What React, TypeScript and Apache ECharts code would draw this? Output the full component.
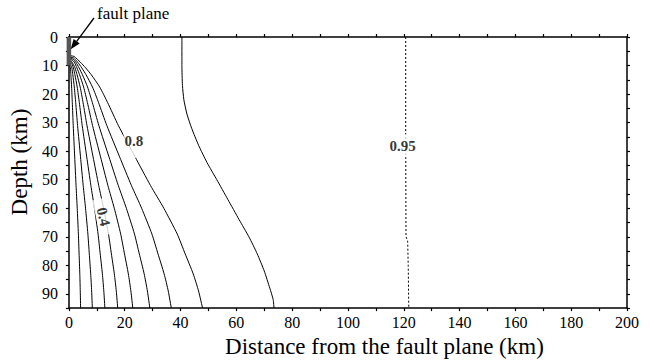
import React, { useEffect, useRef } from "react";
import * as echarts from "echarts";

// Axis ranges / ticks
const xRange = [0, 200];
const xTickStep = 10;
const xLabelStep = 20;
const depthRange = [0, 95];
const depthTickStep = 5;
const depthLabelStep = 10;

// Contours: [distance (km), depth (km)]
const contour01 = [[0, 9.4], [0.53, 10.8], [0.7, 13.2], [0.97, 17.5], [1.22, 23], [1.55, 31], [2.08, 42], [2.56, 52], [2.98, 60], [3.4, 69], [3.65, 76], [3.91, 83], [4.07, 89], [4.2, 95]];
const contour02 = [[0, 9.0], [0.5, 9.6], [1.05, 10.8], [1.4, 13.2], [1.93, 17.5], [2.44, 23], [3.11, 31], [4.16, 42], [5.12, 52], [5.96, 60], [6.8, 69], [7.31, 76], [7.81, 83], [8.15, 89], [8.4, 95]];
const contour03 = [[0, 8.6], [0.8, 8.9], [1.61, 10.8], [2.15, 13.2], [2.97, 17.5], [3.74, 23], [4.77, 31], [6.39, 42], [7.87, 52], [9.16, 60], [10.45, 69], [11.22, 76], [12.0, 83], [12.51, 89], [12.9, 95]];
const contour04 = [[0, 8.2], [1.0, 8.6], [2.19, 10.8], [2.92, 13.2], [4.03, 17.5], [5.08, 23], [6.48, 31], [8.66, 42], [10.68, 52], [12.43, 60], [14.18, 69], [15.23, 76], [16.28, 83], [16.98, 89], [17.5, 95]];
const contour05 = [[0, 7.8], [1.2, 8.1], [1.95, 8.8], [2.86, 10.8], [3.82, 13.2], [5.27, 17.5], [6.64, 23], [8.47, 31], [11.34, 42], [13.97, 52], [16.26, 60], [18.55, 69], [19.92, 76], [21.3, 83], [22.21, 89], [22.9, 95]];
const contour06 = [[0, 7.4], [1.4, 7.7], [2.47, 8.8], [3.63, 10.8], [4.84, 13.2], [6.67, 17.5], [8.41, 23], [10.73, 31], [14.36, 42], [17.69, 52], [20.59, 60], [23.49, 69], [25.23, 76], [26.97, 83], [28.13, 89], [29.0, 95]];
const contour07 = [[0, 7.0], [1.6, 7.3], [3.12, 8.8], [4.59, 10.8], [6.13, 13.2], [8.44, 17.5], [10.64, 23], [13.58, 31], [18.17, 42], [22.39, 52], [26.06, 60], [29.73, 69], [31.93, 76], [34.13, 83], [35.6, 89], [36.7, 95]];
const contour08 = [[0, 6.5], [1.8, 6.8], [4.07, 8.8], [5.99, 10.8], [8.0, 13.2], [11.02, 17.5], [13.89, 23], [17.72, 31], [23.71, 42], [29.22, 52], [34.01, 60], [38.8, 69], [41.67, 76], [44.55, 83], [46.46, 89], [47.9, 95]];
const contour09 = [[40.5, 0], [40.5, 10], [40.7, 17], [41.2, 22], [42.3, 27], [44, 32], [46.5, 38], [49.5, 44], [53, 50], [57, 57], [61, 64], [64.5, 70], [67.5, 76], [70, 82], [72, 88], [73.2, 92], [73.5, 95]];
const contour095 = [[120.7, 0], [120.7, 35], [120.8, 70], [121.4, 71.5], [121.6, 80], [121.8, 95]];

const solidContours = [contour01, contour02, contour03, contour04, contour05, contour06, contour07, contour08, contour09];

// Fault plane segment
const faultPlane = [[0, 0], [0, 10]];

// Contour labels
const labelTexts = ["0.8", "0.4", "0.95"];
const labelPositions = [[23.3, 36.6], [12.4, 63.0], [119.6, 38.1]];
const labelAngles = [0, -77, 0];
const labelPaddings = [[9, 1], [0, 9], [4, 2]];

const annotationText = "fault plane";
const xAxisName = "Distance from the fault plane (km)";
const yAxisName = "Depth (km)";

const SERIF = "Liberation Serif";

export default function App() {
  const ref = useRef<HTMLDivElement>(null);

  useEffect(() => {
    if (!ref.current) return;
    const chart = echarts.init(ref.current, undefined, { renderer: "svg" });

    const axisLine = { onZero: false, lineStyle: { color: "#000", width: 1.5 } };
    const axisTick = { show: true, inside: false, length: 3, lineStyle: { color: "#000", width: 1.2 } };

    const series: any[] = solidContours.map((c) => ({
      type: "line",
      data: c,
      showSymbol: false,
      symbol: "none",
      smooth: 0.2,
      lineStyle: { color: "#000", width: 1 },
      z: 2,
    }));
    series.push({
      type: "line",
      data: contour095,
      showSymbol: false,
      symbol: "none",
      lineStyle: { color: "#000", width: 1, type: [2, 2] },
      z: 2,
    });
    series.push({
      type: "line",
      data: faultPlane,
      showSymbol: false,
      symbol: "none",
      clip: false,
      lineStyle: { color: "#555", width: 4.5, cap: "butt" },
      z: 6,
    });
    series.push({
      type: "scatter",
      symbolSize: 0,
      z: 5,
      data: labelTexts.map((t, i) => ({
        value: labelPositions[i],
        label: {
          show: true,
          position: "inside",
          formatter: t,
          rotate: labelAngles[i],
          fontFamily: SERIF,
          fontWeight: "bold",
          fontSize: 15,
          color: "#000",
          backgroundColor: "#fff",
          padding: labelPaddings[i],
        },
      })),
    });

    // arrow geometry (annotation)
    const tail = [94, 18];
    const tip = [70.7, 49.3];
    const dx = tip[0] - tail[0];
    const dy = tip[1] - tail[1];
    const len = Math.sqrt(dx * dx + dy * dy);
    const ux = dx / len;
    const uy = dy / len;
    const headLen = 10;
    const headHalf = 3.8;
    const bx = tip[0] - headLen * ux;
    const by = tip[1] - headLen * uy;
    const nx = -uy;
    const ny = ux;

    chart.setOption({
      animation: false,
      backgroundColor: "#fff",
      textStyle: { fontFamily: SERIF },
      grid: { left: 68, right: 27, top: 37, bottom: 46 },
      xAxis: [
        {
          type: "value",
          min: xRange[0],
          max: xRange[1],
          interval: xTickStep,
          position: "bottom",
          axisLine,
          axisTick,
          splitLine: { show: false },
          axisLabel: {
            formatter: (v: number) => (v % xLabelStep === 0 ? String(v) : ""),
            fontFamily: SERIF,
            fontSize: 16,
            color: "#000",
            margin: 6,
          },
          name: xAxisName,
          nameLocation: "middle",
          nameGap: 21,
          nameTextStyle: { fontFamily: SERIF, fontSize: 23, color: "#000", padding: [0, 0, 0, 73] },
        },
        {
          type: "value",
          min: xRange[0],
          max: xRange[1],
          interval: xTickStep,
          position: "top",
          axisLine,
          axisTick,
          splitLine: { show: false },
          axisLabel: { show: false },
        },
      ],
      yAxis: [
        {
          type: "value",
          inverse: true,
          min: depthRange[0],
          max: depthRange[1],
          interval: depthTickStep,
          position: "left",
          axisLine,
          axisTick,
          splitLine: { show: false },
          axisLabel: {
            formatter: (v: number) => (v % depthLabelStep === 0 ? String(v) : ""),
            fontFamily: SERIF,
            fontSize: 16,
            color: "#000",
            margin: 11,
          },
          name: yAxisName,
          nameLocation: "middle",
          nameGap: 35,
          nameRotate: 90,
          nameTextStyle: { fontFamily: SERIF, fontSize: 23, color: "#000", padding: [0, 0, 0, 21] },
        },
        {
          type: "value",
          inverse: true,
          min: depthRange[0],
          max: depthRange[1],
          interval: depthTickStep,
          position: "right",
          axisLine,
          axisTick,
          splitLine: { show: false },
          axisLabel: { show: false },
        },
      ],
      graphic: [
        {
          type: "text",
          left: 97,
          top: 5,
          style: { text: annotationText, fontFamily: SERIF, fontSize: 17, fill: "#000" },
          z: 10,
        },
        {
          type: "line",
          shape: { x1: tail[0], y1: tail[1], x2: bx, y2: by },
          style: { stroke: "#000", lineWidth: 1.3 },
          z: 10,
        },
        {
          type: "polygon",
          shape: {
            points: [
              [tip[0], tip[1]],
              [bx + headHalf * nx, by + headHalf * ny],
              [bx - headHalf * nx, by - headHalf * ny],
            ],
          },
          style: { fill: "#000" },
          z: 10,
        },
      ],
      series,
    });

    return () => chart.dispose();
  }, []);

  return (
    <div
      ref={ref}
      style={{ position: "fixed", left: 0, top: 0, width: 654, height: 363, background: "#fff" }}
    />
  );
}
